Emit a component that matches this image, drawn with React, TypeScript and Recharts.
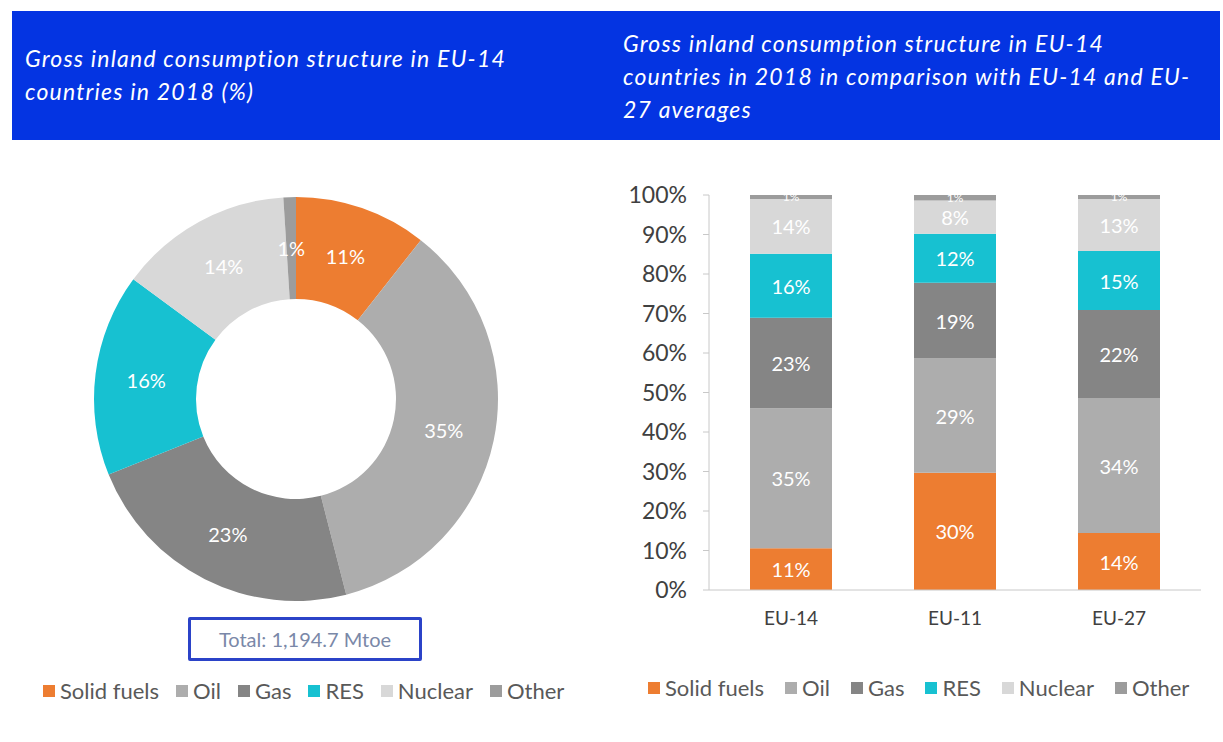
import { PieChart, Pie, Cell, BarChart, Bar, XAxis, YAxis, Legend, LabelList } from 'recharts';

// categories and series (shares in %)
const categories = ['EU-14', 'EU-11', 'EU-27'];
const seriesNames = ['Solid fuels', 'Oil', 'Gas', 'RES', 'Nuclear', 'Other'];
const solidFuels = [10.6, 29.7, 14.4];
const oil = [35.4, 28.9, 34.2];
const gas = [22.9, 19.2, 22.3];
const res = [16.2, 12.4, 14.9];
const nuclear = [13.9, 8.4, 13.2];
const other = [1.0, 1.4, 1.0];
const yTicks = [0, 10, 20, 30, 40, 50, 60, 70, 80, 90, 100];
const totalLabel = 'Total: 1,194.7 Mtoe';

const colors = ['#ED7D31', '#ADADAD', '#858585', '#17C1D1', '#D8D8D8', '#9C9C9C'];
const FONT = 'Lato, "Open Sans", sans-serif';
const RADIAN = Math.PI / 180;

const allSeries = [solidFuels, oil, gas, res, nuclear, other];

const barData = categories.map((c, i) => {
    const row: any = { name: c };
    seriesNames.forEach((s, k) => { row[s] = allSeries[k][i]; });
    return row;
});

// donut = EU-14 column
const pieData = seriesNames.map((s, k) => ({ name: s, value: allSeries[k][0] }));

const renderPieLabel = (props: any) => {
    const { cx, cy, midAngle, innerRadius, outerRadius, value } = props;
    const r = (innerRadius + outerRadius) / 2;
    const x = cx + r * Math.cos(-midAngle * RADIAN);
    const y = cy + r * Math.sin(-midAngle * RADIAN);
    return (
        <text x={x} y={y} fill="#fff" textAnchor="middle" dominantBaseline="central" fontSize={20} fontFamily={FONT}>
            {Math.round(value)}%
        </text>
    );
};

// keep legend in series order (recharts sorts by name otherwise)
const LegendRow = ({ payload, gap }: { payload?: any[], gap: number }) => {
    const items = [...(payload || [])].sort((a, b) => seriesNames.indexOf(a.value) - seriesNames.indexOf(b.value));
    return (
        <div style={{ display: 'flex', alignItems: 'center', fontFamily: FONT, fontSize: 22, color: '#595959', whiteSpace: 'nowrap' }}>
            {items.map((p: any) => (
                <div key={p.value} style={{ display: 'flex', alignItems: 'center', marginRight: gap, flexShrink: 0 }}>
                    <span style={{ width: 12, height: 12, background: p.color, display: 'inline-block', marginRight: 5 }} />
                    <span>{p.value}</span>
                </div>
            ))}
        </div>
    );
};

const barLabel = (small: boolean) => (props: any) => {
    const { x, y, width, height, value } = props;
    return (
        <text x={x + width / 2} y={y + height / 2} fill="#fff" textAnchor="middle" dominantBaseline="central" fontSize={small ? 12 : 20} fontFamily={FONT}>
            {Math.round(value)}%
        </text>
    );
};

const App = () => {
    return (
        <div style={{ position: 'absolute', left: 0, top: 0, width: 1223, height: 742, background: '#fff', overflow: 'hidden' }}>
            <div style={{ position: 'absolute', left: 12, top: 11, width: 1208, height: 129, background: '#0434E2' }} />
            <div style={{ position: 'absolute', left: 25, top: 42, color: '#fff', fontFamily: FONT, fontStyle: 'italic', fontSize: 23, letterSpacing: 1.2, lineHeight: '33px' }}>
                Gross inland consumption structure in EU-14<br />countries in 2018 (%)
            </div>
            <div style={{ position: 'absolute', left: 623, top: 27, color: '#fff', fontFamily: FONT, fontStyle: 'italic', fontSize: 23, letterSpacing: 1.2, lineHeight: '33px' }}>
                Gross inland consumption structure in EU-14<br />countries in 2018 in comparison with EU-14 and EU-<br />27 averages
            </div>

            <div style={{ position: 'absolute', left: 0, top: 140 }}>
                <PieChart width={600} height={580}>
                    <Pie
                        data={pieData}
                        dataKey="value"
                        nameKey="name"
                        cx={291}
                        cy={254}
                        innerRadius={100}
                        outerRadius={202}
                        startAngle={90}
                        endAngle={-270}
                        stroke="none"
                        label={renderPieLabel}
                        labelLine={false}
                        isAnimationActive={false}
                    >
                        {pieData.map((d, i) => <Cell key={d.name} fill={colors[i]} />)}
                    </Pie>
                    <Legend
                        verticalAlign="middle"
                        align="center"
                        wrapperStyle={{ top: 537, left: 43, width: 560 }}
                        content={(p: any) => <LegendRow payload={p.payload} gap={17} />}
                    />
                </PieChart>
            </div>

            <div style={{ position: 'absolute', left: 188, top: 617, width: 228, height: 38, border: '3px solid #2B43C8', borderRadius: 2, display: 'flex', alignItems: 'center', justifyContent: 'center', fontFamily: FONT, fontSize: 20, color: '#7A88A8' }}>
                {totalLabel}
            </div>

            <div style={{ position: 'absolute', left: 600, top: 180 }}>
                <BarChart width={623} height={530} data={barData} margin={{ top: 15, right: 22, bottom: 90, left: 0 }}>
                    <YAxis
                        domain={[0, 100]}
                        ticks={yTicks}
                        tickFormatter={(v: number) => `${v}%`}
                        width={109}
                        axisLine={{ stroke: '#c8c8c8' }}
                        tickLine={{ stroke: '#c8c8c8' }}
                        tickSize={6}
                        tickMargin={16}
                        tick={{ fill: '#404040', fontSize: 23, fontFamily: FONT }}
                    />
                    <XAxis
                        dataKey="name"
                        height={30}
                        axisLine={{ stroke: '#c8c8c8' }}
                        tickLine={false}
                        tickMargin={16}
                        tick={{ fill: '#404040', fontSize: 19, fontFamily: FONT }}
                    />
                    {seriesNames.map((s, k) => (
                        <Bar key={s} dataKey={s} stackId="a" fill={colors[k]} barSize={82} isAnimationActive={false}>
                            <LabelList dataKey={s} content={barLabel(s === 'Other')} />
                        </Bar>
                    ))}
                    <Legend
                        verticalAlign="middle"
                        align="center"
                        wrapperStyle={{ top: 494, left: 48, width: 575 }}
                        content={(p: any) => <LegendRow payload={p.payload} gap={21} />}
                    />
                </BarChart>
            </div>
        </div>
    );
};

export default App;
